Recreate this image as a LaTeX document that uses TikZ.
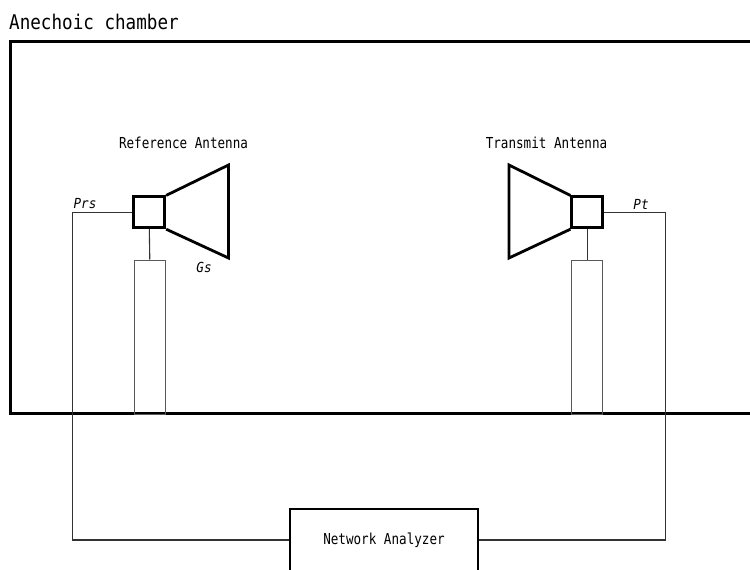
\documentclass[tikz,border=0pt]{standalone}
\usepackage{fontspec}
\usepackage{graphicx}
\setmonofont{DejaVu Sans Mono}
\newcommand\tallbox[2]{\scalebox{1}[#1]{#2}}
\begin{document}
\begin{tikzpicture}[x=1pt,y=-1pt,
  lbl/.style={font=\ttfamily\fontsize{12.6}{14}\selectfont, inner sep=0pt},
  ilbl/.style={font=\ttfamily\itshape\fontsize{12.6}{14}\selectfont, inner sep=0pt},
  feed/.style={draw=black, line width=2.8pt, minimum width=31pt, minimum height=31pt, inner sep=0pt},
  horn/.style={draw=black, line width=2.8pt, line join=miter},
  mast/.style={draw=black!65, line width=1pt, minimum width=31pt, minimum height=154pt, inner sep=0pt, anchor=north},
  wire/.style={draw=black!80, line width=1.1pt},
  chamber/.style={draw=black, line width=3pt},
  nabox/.style={draw=black, line width=2.8pt, minimum width=188pt, minimum height=62pt, inner sep=0pt, font=\ttfamily\fontsize{12.6}{14}\selectfont}]
\useasboundingbox (0,0) rectangle (750,570);
\clip (0,0) rectangle (750,570);
% chamber
\node[anchor=west, inner sep=0pt, font=\ttfamily\fontsize{17.6}{20}\selectfont] (title) at (9,21.5) {\tallbox{1.15}{Anechoic chamber}};
\draw[chamber] (10,41) rectangle (770,413);
% reference antenna
\node[feed] (feedL) at (149.3,212.3) {};
\draw[horn] (feedL.north east) -- (228.5,165) -- (228.5,258) -- (feedL.south east);
\node[mast] (mastL) at (149.8,259.5) {};
\draw[wire] (feedL.south) -- (mastL.north);
\node[lbl] (refL) at (183.5,142.7) {\tallbox{1.2}{Reference Antenna}};
\node[ilbl] (prs) at (85,204) {\tallbox{1.1}{Prs}};
\node[ilbl] (gs) at (204,267) {\tallbox{1.1}{Gs}};
% transmit antenna
\node[feed] (feedR) at (587.3,212.3) {};
\draw[horn] (feedR.north west) -- (509,165) -- (509,258) -- (feedR.south west);
\node[mast] (mastR) at (587.3,259.5) {};
\draw[wire] (feedR.south) -- (mastR.north);
\node[lbl] (refR) at (546.5,142.7) {\tallbox{1.2}{Transmit Antenna}};
\node[ilbl] (pt) at (641,204) {\tallbox{1.1}{Pt}};
% network analyzer
\node[nabox] (na) at (384,540) {\tallbox{1.2}{Network Analyzer}};
% wires
\coordinate (cornL) at (72.3,212.3);
\coordinate (cornR) at (665.5,212.3);
\draw[wire] (feedL.west) -- (cornL) |- (na.west);
\draw[wire] (feedR.east) -- (cornR) |- (na.east);
\end{tikzpicture}
\end{document}
